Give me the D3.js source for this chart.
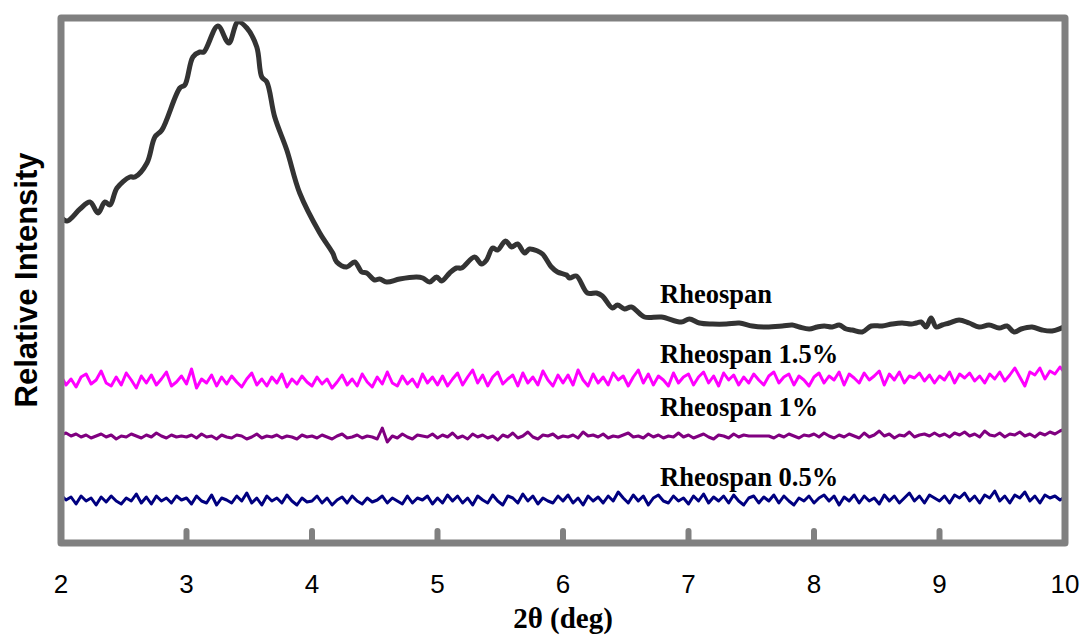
<!DOCTYPE html>
<html>
<head>
<meta charset="utf-8">
<script src="https://cdn.jsdelivr.net/npm/d3@7"></script>
<style>
  body { margin: 0; background: #fff; }
</style>
</head>
<body>
<div id="xrd"></div>
<script>
// main Rheospan trace, [2theta, intensity]
var rheospan = [
  [2.000,326],[2.048,322],[2.151,334],[2.231,341],[2.295,330],[2.350,341],[2.390,338],[2.446,355],
  [2.549,366],[2.589,366],[2.685,380],[2.748,406],[2.804,413],[2.947,455],[2.987,458],[3.051,486],
  [3.106,491],[3.138,491],[3.250,517],[3.337,500],[3.409,521],[3.481,515],[3.560,496],[3.600,466],
  [3.640,461],[3.703,426],[3.799,393],[3.902,350],[4.062,310],[4.165,290],[4.197,281],[4.277,276],
  [4.340,281],[4.396,271],[4.436,270],[4.499,263],[4.539,264],[4.595,261],[4.698,264],[4.834,266],
  [4.882,265],[4.937,261],[4.993,266],[5.033,262],[5.097,270],[5.152,275],[5.192,275],[5.295,286],
  [5.351,279],[5.391,283],[5.439,295],[5.479,293],[5.542,302],[5.590,296],[5.638,299],[5.694,290],
  [5.733,294],[5.797,292],[5.837,289],[5.908,276],[5.956,271],[6.028,268],[6.052,265],[6.107,267],
  [6.195,250],[6.267,250],[6.314,247],[6.394,235],[6.434,238],[6.490,234],[6.545,236],[6.649,226],
  [6.784,226],[6.943,221],[7.007,224],[7.087,220],[7.190,219],[7.301,219],[7.405,220],[7.508,217],
  [7.620,216],[7.747,217],[7.827,218],[7.883,216],[7.962,214],[8.026,216],[8.082,217],[8.145,216],
  [8.201,218],[8.257,214],[8.304,213],[8.384,211],[8.456,217],[8.543,217],[8.623,219],[8.702,220],
  [8.774,219],[8.814,220],[8.854,221],[8.893,216],[8.933,225],[8.973,216],[9.021,218],[9.077,220],
  [9.156,223],[9.236,220],[9.315,216],[9.395,218],[9.475,215],[9.538,217],[9.594,211],[9.650,214],
  [9.737,216],[9.817,213],[9.897,212],[9.992,216]
];

// the three filled samples, read every 0.04 deg from 2 to 10
var startAngle = 2, angleStep = 0.04;

var rheospan15 = [
  167,158,164,156,166,169,159,163,172,160,157,166,158,170,163,155,167,160,168,158,164,171,157,161,167,
  159,174,155,164,160,168,157,166,159,167,161,156,164,170,158,164,157,166,160,169,156,164,159,167,161,
  157,166,159,164,155,161,168,158,164,157,169,161,156,166,159,171,160,157,167,159,164,156,169,160,166,
  158,167,157,164,170,158,166,173,160,168,157,166,171,159,164,168,157,170,160,166,158,172,163,157,168,
  160,168,158,173,163,157,169,160,166,158,170,163,167,157,166,173,160,169,158,167,163,157,170,160,166,
  169,158,166,171,160,167,157,170,163,168,158,166,160,169,163,158,167,171,160,166,169,158,167,163,157,
  166,170,160,167,163,171,158,169,165,160,170,163,167,172,158,169,163,171,160,167,165,170,162,168,160,
  167,163,171,160,169,165,170,162,167,160,169,164,171,162,168,175,166,157,171,168,175,164,172,169,176,
  170
];

var rheospan10 = [
  108,110,107,109,106,108,105,107,109,106,108,104,107,106,109,107,105,108,106,110,107,105,108,106,107,
  106,108,105,109,106,107,104,108,106,105,108,107,104,106,109,105,107,106,108,105,107,106,104,108,106,
  107,105,108,106,104,107,109,105,106,108,105,107,106,104,115,101,107,105,109,106,104,108,107,106,109,
  105,108,106,110,105,107,104,109,106,108,105,107,103,108,106,110,105,107,111,106,104,108,107,109,105,
  107,106,108,105,111,107,108,106,109,105,107,106,108,110,106,107,105,109,106,108,105,107,106,110,106,
  108,105,107,109,106,104,108,107,105,109,106,108,107,107,107,107,107,105,108,106,109,107,105,108,107,
  109,106,110,107,105,108,106,109,107,105,110,106,108,112,107,109,105,108,107,111,106,108,109,107,110,
  107,109,106,110,108,111,107,109,106,112,108,107,110,106,109,108,111,107,109,106,110,108,111,109,112,
  114
];

var rheospan05 = [
  48,43,46,39,47,42,45,38,46,41,47,42,39,45,42,49,40,46,39,47,42,45,40,47,43,
  45,39,47,42,40,48,38,45,43,40,47,42,50,40,45,38,47,42,45,40,48,42,38,45,41,
  42,47,40,45,38,43,46,40,47,42,39,45,41,43,47,40,45,42,39,47,40,45,43,47,39,
  45,40,48,42,47,40,45,38,47,43,40,48,42,38,47,45,40,49,42,47,39,45,42,40,47,
  42,48,40,45,38,47,42,46,40,47,42,51,45,40,48,42,47,38,45,48,42,40,47,42,45,
  39,47,42,49,40,46,42,47,40,48,42,38,45,47,40,46,42,48,40,47,42,38,45,42,47,
  40,45,48,42,47,38,46,42,48,40,47,42,45,39,48,42,47,40,45,50,42,47,40,48,45,
  42,47,40,48,45,50,42,47,40,48,45,52,42,47,40,48,45,51,42,47,40,48,45,47,43,
  46
];

var xTicks = [2, 3, 4, 5, 6, 7, 8, 9, 10];
var seriesNames = ["Rheospan", "Rheospan 1.5%", "Rheospan 1%", "Rheospan 0.5%"];
var seriesColors = ["#333333", "#ff00ff", "#800080", "#000080"];
var labelValues = [240, 180, 127, 57];   // where each name sits, in intensity units

var width = 1081, height = 637;
var svg = d3.select("#xrd").append("svg")
  .attr("width", width)
  .attr("height", height);

var x = d3.scaleLinear().domain([2, 10]).range([61, 1065]);
var y = d3.scaleLinear().domain([0, 525]).range([543, 18]);

function toPoints(vals) {
  return vals.map(function(v, i) { return [startAngle + i * angleStep, v]; });
}

var line = d3.line()
  .x(function(d) { return x(d[0]); })
  .y(function(d) { return y(d[1]); });

var smooth = d3.line()
  .x(function(d) { return x(d[0]); })
  .y(function(d) { return y(d[1]); })
  .curve(d3.curveCatmullRom);

// noisy traces
var noisy = [toPoints(rheospan15), toPoints(rheospan10), toPoints(rheospan05)];
noisy.forEach(function(pts, i) {
  svg.append("path")
    .attr("d", line(pts))
    .attr("fill", "none")
    .attr("stroke", seriesColors[i + 1])
    .attr("stroke-width", 3)
    .attr("stroke-linejoin", "round");
});

svg.append("path")
  .attr("d", smooth(rheospan))
  .attr("fill", "none")
  .attr("stroke", seriesColors[0])
  .attr("stroke-width", 5)
  .attr("stroke-linejoin", "round")
  .attr("stroke-linecap", "round");

// series names
svg.selectAll(".lbl")
  .data(seriesNames)
  .enter().append("text")
    .attr("class", "lbl")
    .attr("x", 660)
    .attr("y", function(d, i) { return y(labelValues[i]); })
    .attr("font-family", "'Times New Roman', 'Liberation Serif', serif")
    .attr("font-weight", "bold")
    .attr("font-size", 26.5)
    .attr("fill", "#000")
    .text(function(d) { return d; });

// frame
svg.append("rect")
  .attr("x", x(2))
  .attr("y", y(525))
  .attr("width", x(10) - x(2))
  .attr("height", y(0) - y(525))
  .attr("fill", "none")
  .attr("stroke", "#808080")
  .attr("stroke-width", 7)
  .attr("stroke-linejoin", "round");

// inside ticks
svg.append("g")
  .selectAll("line")
  .data(xTicks.slice(1, -1))
  .enter().append("line")
    .attr("x1", function(d) { return x(d); })
    .attr("x2", function(d) { return x(d); })
    .attr("y1", y(0))
    .attr("y2", y(0) - 12)
    .attr("stroke", "#808080")
    .attr("stroke-width", 6)
    .attr("stroke-linecap", "round");

// tick labels
svg.append("g")
  .selectAll("text")
  .data(xTicks)
  .enter().append("text")
    .attr("x", function(d) { return x(d); })
    .attr("y", 593)
    .attr("text-anchor", "middle")
    .attr("font-family", "Arial, 'Liberation Sans', sans-serif")
    .attr("font-size", 26)
    .attr("fill", "#000")
    .text(function(d) { return d; });

// axis titles
svg.append("text")
  .attr("x", 563)
  .attr("y", 628)
  .attr("text-anchor", "middle")
  .attr("font-family", "'Times New Roman', 'Liberation Serif', serif")
  .attr("font-weight", "bold")
  .attr("font-size", 29)
  .attr("fill", "#000")
  .text("2θ (deg)");

svg.append("text")
  .attr("transform", "translate(37,280) rotate(-90)")
  .attr("text-anchor", "middle")
  .attr("font-family", "Arial, 'Liberation Sans', sans-serif")
  .attr("font-weight", "bold")
  .attr("font-size", 31)
  .attr("fill", "#000")
  .text("Relative Intensity");
</script>
</body>
</html>
